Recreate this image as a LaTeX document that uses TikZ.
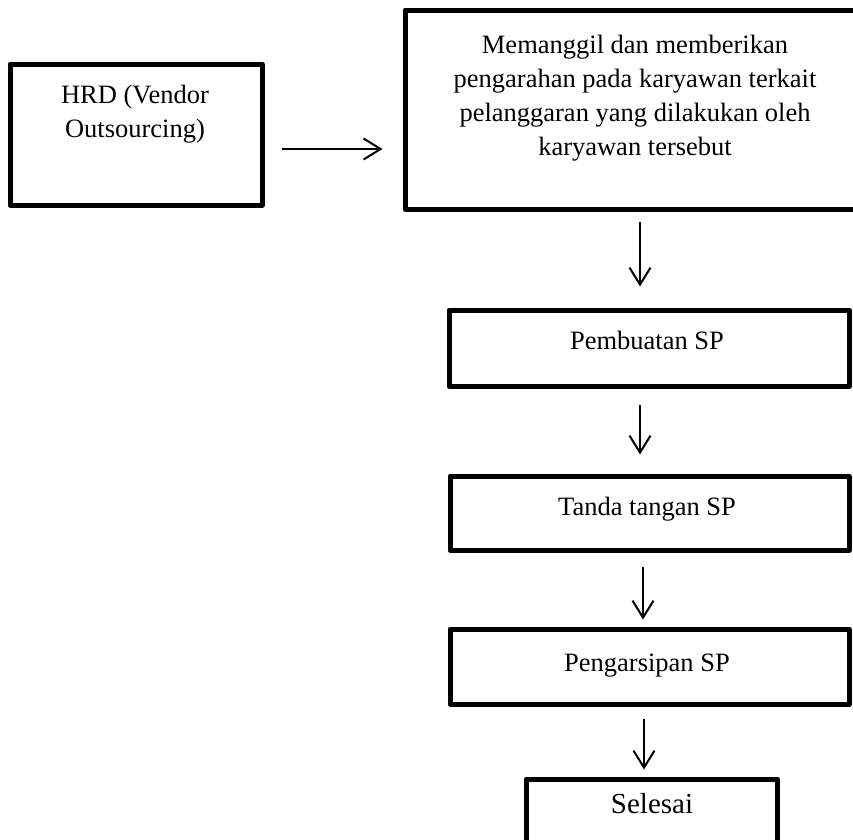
\documentclass[tikz,border=0pt]{standalone}
\usepackage{fontspec}
\setmainfont{Liberation Serif}
\usetikzlibrary{arrows.meta,calc}
\begin{document}
\begin{tikzpicture}[x=1pt,y=-1pt,
  boxnode/.style={draw,line width=5pt,line join=round,inner sep=0pt,rectangle},
  txt/.style={inner sep=0pt,align=center,anchor=base,font=\fontsize{26.5}{34}\selectfont},
  arr/.style={line width=2pt,-{Straight Barb[length=17pt,width=21pt,line width=2pt]}}]
\useasboundingbox (0,0) rectangle (853,839);
% boxes
\node[boxnode,minimum width=252pt,minimum height=141pt] (hrd) at (136,134.5) {};
\node[boxnode,minimum width=455pt,minimum height=199pt] (main) at (632.5,109.5) {};
\node[boxnode,minimum width=400pt,minimum height=76pt] (pemb) at (649,348) {};
\node[boxnode,minimum width=399pt,minimum height=74pt] (tanda) at (649.5,513) {};
\node[boxnode,minimum width=399pt,minimum height=75pt] (peng) at (649.5,666.5) {};
\node[boxnode,minimum width=251pt,minimum height=71pt] (sel) at (651.5,814.5) {};
% texts
\node[txt] (thrd) at (135,137) {HRD (Vendor\\Outsourcing)};
\node[txt] (tmain) at (635,155) {Memanggil dan memberikan\\pengarahan pada karyawan terkait\\pelanggaran yang dilakukan oleh\\karyawan tersebut};
\node[txt] (tpemb) at (647,349) {Pembuatan SP};
\node[txt] (ttanda) at (647,515) {Tanda tangan SP};
\node[txt] (tpeng) at (647,671) {Pengarsipan SP};
\node[txt,font=\fontsize{29}{34}\selectfont] (tsel) at (652,813) {Selesai};
% arrows
\draw[arr] ($(hrd.east)+(17,14.5)$) -- ($(main.west |- hrd.east)+(-20,14.5)$);
\draw[arr] ($(main.south -| 640,0)+(0,10)$) -- ($(pemb.north -| 640,0)+(0,-21)$);
\draw[arr] ($(pemb.south -| 640,0)+(0,16)$) -- ($(tanda.north -| 640,0)+(0,-19)$);
\draw[arr] ($(tanda.south -| 643,0)+(0,14)$) -- ($(peng.north -| 643,0)+(0,-7)$);
\draw[arr] ($(peng.south -| 644,0)+(0,12)$) -- ($(sel.north -| 644,0)+(0,-7)$);
\end{tikzpicture}
\end{document}
